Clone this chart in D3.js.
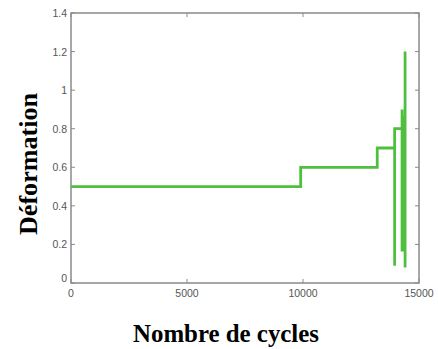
<!DOCTYPE html>
<html>
<head>
<meta charset="utf-8">
<script src="https://cdn.jsdelivr.net/npm/d3@7"></script>
<style>
  html, body { margin: 0; padding: 0; background: #fff; }
  svg { display: block; }
</style>
</head>
<body>
<svg id="chart" width="438" height="349"></svg>
<script>
// Strain history: step levels with the final oscillations near failure
const cycles = [0, 9900, 9900, 13200, 13200, 13950, 13950, 13950, 14270, 14270, 14270, 14330, 14330, 14400, 14400, 14400];
const deformation = [0.5, 0.5, 0.6, 0.6, 0.7, 0.7, 0.09, 0.8, 0.8, 0.9, 0.17, 0.17, 0.86, 0.86, 1.2, 0.08];

const xTicks = [0, 5000, 10000, 15000];
const yTicks = [0, 0.2, 0.4, 0.6, 0.8, 1, 1.2, 1.4];

const xTitle = "Nombre de cycles";
const yTitle = "Déformation";

const svg = d3.select("#chart");
const plot = { left: 71, right: 419, top: 13, bottom: 283 };

const x = d3.scaleLinear().domain([0, 15000]).range([plot.left, plot.right]);
const y = d3.scaleLinear().domain([0, 1.4]).range([plot.bottom, plot.top]);

const axisColor = "#8a8a8a";
const tickFont = "'Liberation Sans', Arial, sans-serif";

// Frame
svg.append("rect")
  .attr("x", plot.left).attr("y", plot.top)
  .attr("width", plot.right - plot.left).attr("height", plot.bottom - plot.top)
  .attr("fill", "none").attr("stroke", axisColor).attr("stroke-width", 1.5);

// Inward ticks on all four sides
const tickLen = 4;
const g = svg.append("g").attr("stroke", axisColor).attr("stroke-width", 1);
xTicks.forEach(t => {
  g.append("line").attr("x1", x(t)).attr("x2", x(t)).attr("y1", plot.bottom).attr("y2", plot.bottom - tickLen);
  g.append("line").attr("x1", x(t)).attr("x2", x(t)).attr("y1", plot.top).attr("y2", plot.top + tickLen);
});
yTicks.forEach(t => {
  g.append("line").attr("x1", plot.left).attr("x2", plot.left + tickLen).attr("y1", y(t)).attr("y2", y(t));
  g.append("line").attr("x1", plot.right).attr("x2", plot.right - tickLen).attr("y1", y(t)).attr("y2", y(t));
});

// Tick labels
svg.append("g").selectAll("text").data(xTicks).join("text")
  .attr("x", d => x(d)).attr("y", plot.bottom + 14)
  .attr("text-anchor", "middle")
  .attr("font-family", tickFont).attr("font-size", 10.5)
  .attr("fill", "#555")
  .text(d => d);

svg.append("g").selectAll("text").data(yTicks).join("text")
  .attr("x", plot.left - 4).attr("y", d => y(d) + (d === 0 ? -1 : 4))
  .attr("text-anchor", "end")
  .attr("font-family", tickFont).attr("font-size", 10.5)
  .attr("fill", "#555")
  .text(d => d);

// Data line
const line = d3.line().x((d, i) => x(cycles[i])).y(d => y(d));
svg.append("path")
  .datum(deformation)
  .attr("d", line)
  .attr("fill", "none")
  .attr("stroke", "#4fbf3f")
  .attr("stroke-width", 2.8)
  .attr("stroke-linejoin", "miter");

// Axis titles
svg.append("text")
  .attr("x", 133).attr("y", 342)
  .attr("font-family", "'Liberation Serif', 'Times New Roman', serif")
  .attr("font-weight", "bold").attr("font-size", 25)
  .attr("textLength", 186).attr("lengthAdjust", "spacingAndGlyphs")
  .attr("fill", "#000")
  .text(xTitle);

svg.append("text")
  .attr("transform", "translate(37,235) rotate(-90)")
  .attr("font-family", "'Liberation Serif', 'Times New Roman', serif")
  .attr("font-weight", "bold").attr("font-size", 25)
  .attr("textLength", 142).attr("lengthAdjust", "spacingAndGlyphs")
  .attr("fill", "#000")
  .text(yTitle);
</script>
</body>
</html>
